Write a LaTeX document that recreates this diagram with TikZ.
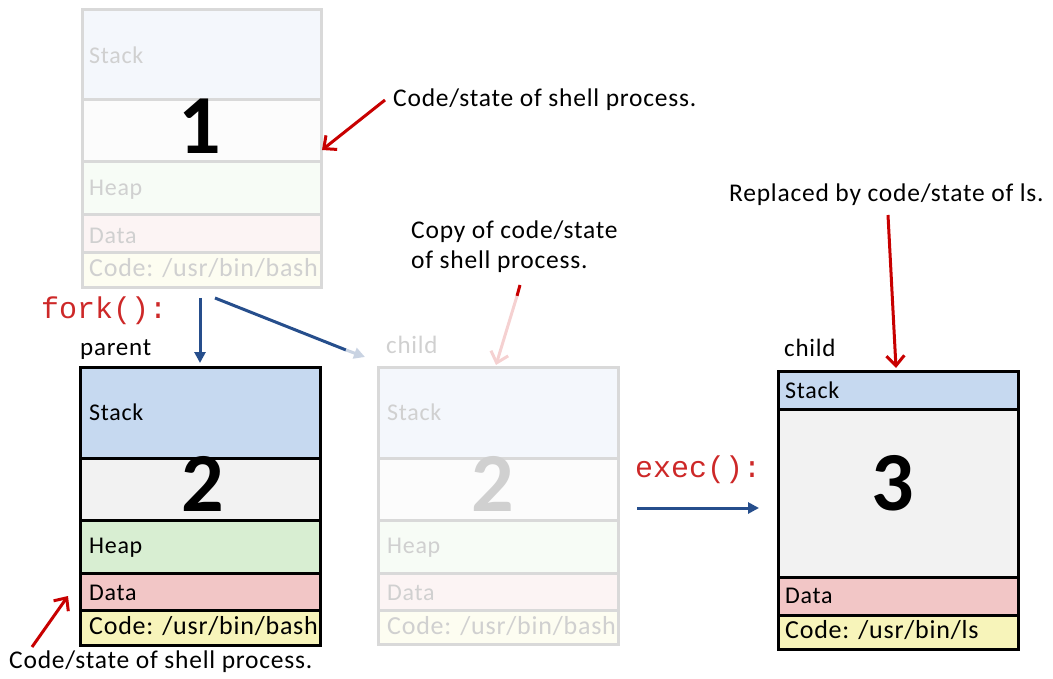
\documentclass[tikz,border=0pt]{standalone}
\usepackage{fontspec}
\setmainfont{Carlito}[LetterSpace=3]
\newfontfamily\codefont{Liberation Mono}
\usetikzlibrary{arrows.meta}

\definecolor{stackfill}{RGB}{198,217,240}
\definecolor{midfill}{RGB}{242,242,242}
\definecolor{heapfill}{RGB}{216,238,210}
\definecolor{datafill}{RGB}{242,198,198}
\definecolor{codefill}{RGB}{247,244,186}
\definecolor{fadeline}{RGB}{217,217,217}
\definecolor{fadetext}{RGB}{208,208,208}
\definecolor{callblue}{RGB}{38,78,140}
\definecolor{notered}{RGB}{200,0,0}
\definecolor{calltext}{RGB}{205,40,40}

\tikzset{
	solidbox/.style={line width=3pt, draw=black},
	fadebox/.style={line width=3pt, draw=fadeline},
	seglabel/.style={anchor=west, inner sep=0pt, font=\fontsize{24}{28}\selectfont},
	codelabel/.style={anchor=west, inner sep=0pt, font=\fontsize{26}{30}\selectfont},
	bignum/.style={inner sep=0pt, font=\fontsize{84}{90}\selectfont\bfseries},
	note/.style={anchor=west, inner sep=0pt, align=left, font=\fontsize{25.5}{30}\selectfont},
	call/.style={anchor=west, inner sep=0pt, text=calltext, font=\fontsize{30}{32}\selectfont\codefont},
	blue arrow/.style={line width=3pt, draw=callblue, -{Triangle[length=11pt, width=11pt]}},
	red arrow/.style={line width=3pt, draw=notered, -{Straight Barb[length=10pt, width=18pt, line width=3pt]}},
}

\begin{document}
\begin{tikzpicture}[x=1pt, y=-1pt]
	\useasboundingbox (0,0) rectangle (1053,679);

	% process 1 (faded)
	\filldraw[fadebox, fill=stackfill!20] (82,10) rectangle (321,100);
	\filldraw[fadebox, fill=midfill!20] (82,100) rectangle (321,162);
	\filldraw[fadebox, fill=heapfill!20] (82,162) rectangle (321,215);
	\filldraw[fadebox, fill=datafill!20] (82,215) rectangle (321,253);
	\filldraw[fadebox, fill=codefill!20] (82,253) rectangle (321,288);
	\node[seglabel, text=fadetext] (stackA) at (89,55) {Stack};
	\node[bignum] (numA) at (200,126) {1};
	\node[seglabel, text=fadetext] (heapA) at (89,190) {Heap};
	\node[seglabel, text=fadetext] (dataA) at (89,236) {Data};
	\node[codelabel, text=fadetext] (codeA) at (89,268) {Code: /usr/bin/bash};

	% process 2, parent
	\filldraw[solidbox, fill=stackfill] (80,367) rectangle (320,458);
	\filldraw[solidbox, fill=midfill] (80,458) rectangle (320,520);
	\filldraw[solidbox, fill=heapfill] (80,520) rectangle (320,573);
	\filldraw[solidbox, fill=datafill] (80,573) rectangle (320,610);
	\filldraw[solidbox, fill=codefill] (80,610) rectangle (320,645);
	\node[seglabel] (stackB) at (89,412) {Stack};
	\node[bignum] (numB) at (203,484) {2};
	\node[seglabel] (heapB) at (89,548) {Heap};
	\node[seglabel] (dataB) at (89,593) {Data};
	\node[codelabel] (codeB) at (89,626) {Code: /usr/bin/bash};
	\node[seglabel, font=\fontsize{25}{28}\selectfont] (parent) at (80,350) {parent};

	% process 2, child (faded)
	\filldraw[fadebox, fill=stackfill!20] (378,367) rectangle (618,458);
	\filldraw[fadebox, fill=midfill!20] (378,458) rectangle (618,520);
	\filldraw[fadebox, fill=heapfill!20] (378,520) rectangle (618,573);
	\filldraw[fadebox, fill=datafill!20] (378,573) rectangle (618,610);
	\filldraw[fadebox, fill=codefill!20] (378,610) rectangle (618,644);
	\node[seglabel, text=fadetext] (stackC) at (387,412) {Stack};
	\node[bignum, text=fadetext] (numC) at (493,484) {2};
	\node[seglabel, text=fadetext] (heapC) at (387,548) {Heap};
	\node[seglabel, text=fadetext] (dataC) at (387,593) {Data};
	\node[codelabel, text=fadetext] (codeC) at (387,626) {Code: /usr/bin/bash};
	\node[seglabel, text=fadetext, font=\fontsize{25}{28}\selectfont] (childC) at (386,345) {child};

	% process 3, child after exec
	\filldraw[solidbox, fill=stackfill] (778,371) rectangle (1018,409);
	\filldraw[solidbox, fill=midfill] (778,409) rectangle (1018,577);
	\filldraw[solidbox, fill=datafill] (778,577) rectangle (1018,615);
	\filldraw[solidbox, fill=codefill] (778,615) rectangle (1018,649);
	\node[seglabel] (stackD) at (785,390) {Stack};
	\node[bignum] (numD) at (893,483) {3};
	\node[seglabel] (dataD) at (785,596) {Data};
	\node[codelabel] (codeD) at (785,630) {Code: /usr/bin/ls};
	\node[seglabel, font=\fontsize{25}{28}\selectfont] (childD) at (784,348) {child};

	% calls
	\node[call] (fork) at (41,311) {fork():};
	\node[call] (exec) at (635,470) {exec():};

	\coordinate (F0) at (200,298);
	\coordinate (F1) at (200,363);
	\coordinate (G0) at (215,298);
	\coordinate (G1) at (346,350);
	\coordinate (G2) at (365,357);
	\draw[blue arrow] (F0) -- (F1);
	\draw[line width=3pt, callblue] (G0) -- (G1);
	\draw[line width=3pt, draw=callblue!25, -{Triangle[length=11pt, width=11pt]}] (G1) -- (G2);

	\coordinate (E0) at (637,508);
	\coordinate (E1) at (759,508);
	\draw[blue arrow] (E0) -- (E1);

	% notes
	\node[note] (noteA) at (393,100) {Code/state of shell process.};
	\node[note] (noteB) at (9,662) {Code/state of shell process.};
	\node[note] (noteC) at (411,247) {Copy of code/state\\of shell process.};
	\node[note] (noteD) at (729,195) {Replaced by code/state of ls.};

	\coordinate (A0) at (385,100);
	\coordinate (A1) at (322,150);
	\draw[red arrow] (A0) -- (A1);

	\coordinate (B0) at (32,647);
	\coordinate (B1) at (68,596);
	\draw[red arrow] (B0) -- (B1);

	\coordinate (C0) at (520,285);
	\coordinate (C1) at (517,296);
	\coordinate (C2) at (496,365);
	\draw[line width=3pt, notered] (C0) -- (C1);
	\draw[line width=3pt, draw=notered!18, -{Straight Barb[length=10pt, width=18pt, line width=3pt]}] (C1) -- (C2);

	\coordinate (D0) at (888,215);
	\coordinate (D1) at (896,368);
	\draw[red arrow] (D0) -- (D1);
\end{tikzpicture}
\end{document}
